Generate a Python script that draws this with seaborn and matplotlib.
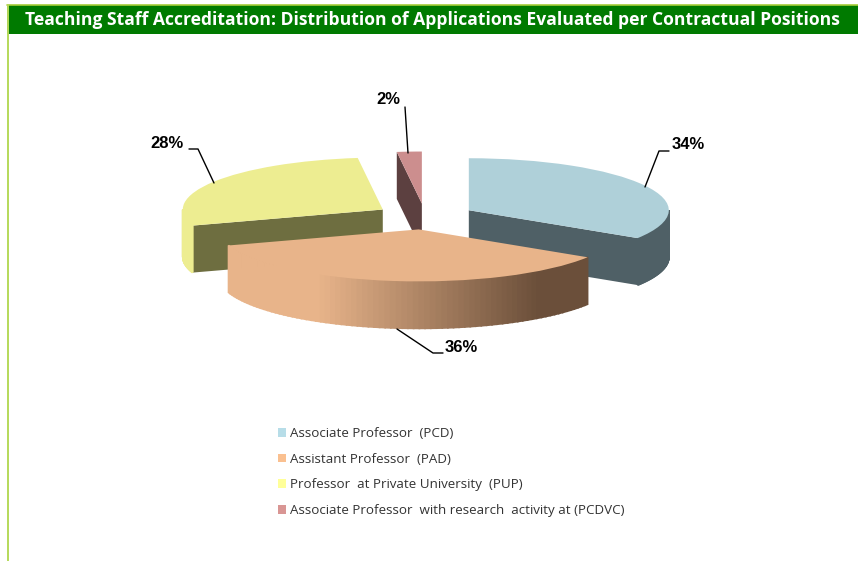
import numpy as np
import seaborn as sns
import matplotlib.pyplot as plt
from matplotlib.colors import to_rgb
from matplotlib.patches import Patch, Polygon, Rectangle

categories = ["Associate Professor  (PCD)", "Assistant Professor  (PAD)",
              "Professor  at Private University  (PUP)",
              "Associate Professor  with research  activity at (PCDVC)"]
shares = [34, 36, 28, 2]
pct_labels = ["34%", "36%", "28%", "2%"]

top_colors = ["#AFD0D9", "#E8B48A", "#EDED91", "#CC8E8E"]
dark_colors = ["#4F6066", "#6B4F3A", "#6E6E40", "#5C4040"]
legend_colors = ["#B7DDE8", "#FAC090", "#FFFF99", "#D99694"]
draw_order = [3, 2, 0, 1]   # back to front

# pixel scale of the tilted pie
W, H = 858, 561
cx, cy = 425, 216.5
rx, ry = 200, 52
depth = 47 / ry

sns.set_theme(style="white")

fig = plt.figure(figsize=(W / 100, H / 100), dpi=100, facecolor="white")
ax = fig.add_axes([0, 0, 1, 1])
wedges, _ = ax.pie(shares, colors=top_colors, startangle=90, counterclock=False,
                   explode=[0.25] * len(shares), radius=1)
ax.set_aspect("auto")
ax.set_xlim(-cx / rx, (W - cx) / rx)
ax.set_ylim((cy - H) / ry, cy / ry)
ax.axis("off")


def rim_point(w, deg):
    a = np.radians(deg)
    return w.center[0] + np.cos(a), w.center[1] + np.sin(a)


# side walls of each slice
for i in draw_order:
    w = wedges[i]
    z = 2 * draw_order.index(i) + 1
    w.set_zorder(z + 1)
    w.set_edgecolor("none")
    base = np.array(to_rgb(top_colors[i]))
    dark = np.array(to_rgb(dark_colors[i]))

    # flat cut faces turned to the viewer
    for deg, seen in ((w.theta1, np.cos(np.radians(w.theta1)) > 1e-6),
                      (w.theta2, np.cos(np.radians(w.theta2)) < -1e-6)):
        if seen:
            x, y = rim_point(w, deg)
            ax.add_patch(Polygon([w.center, (x, y), (x, y - depth),
                                  (w.center[0], w.center[1] - depth)],
                                 closed=True, fc=dark_colors[i], ec="none", zorder=z))

    # curved outer wall, only the front half shows
    lo, hi = max(w.theta1, -180), min(w.theta2, 0)
    if hi > lo:
        steps = np.linspace(lo, hi, 80)
        for d0, d1 in zip(steps[:-1], steps[1:]):
            t = np.clip((np.cos(np.radians((d0 + d1) / 2)) + 0.5) / 1.1, 0, 1)
            x0, y0 = rim_point(w, d0)
            x1, y1 = rim_point(w, d1)
            ax.add_patch(Polygon([(x0, y0), (x1, y1), (x1, y1 - depth), (x0, y0 - depth)],
                                 closed=True, fc=base + (dark - base) * t,
                                 ec=base + (dark - base) * t, lw=1.2, zorder=z))

# overlay in pixel units for frame, leaders and text
over = fig.add_axes([0, 0, 1, 1], facecolor="none")
over.set_xlim(0, W)
over.set_ylim(H, 0)
over.axis("off")

over.add_patch(Rectangle((7, 5), W - 7, 29, fc="#007A00", ec="none"))
over.plot([7, W], [5, 5], color="#A6CE39", lw=1.2)
over.plot([7.5, 7.5], [5, H], color="#B5D95A", lw=1.4)
over.text(432, 20, "Teaching Staff Accreditation: Distribution of Applications Evaluated per Contractual Positions",
          color="white", fontweight="bold", fontsize=12.65, family="Open Sans", ha="center", va="center")

leaders = [[(669, 151), (659, 151), (645, 187)],
           [(443, 353), (433, 353), (397, 329)],
           [(189, 149), (198, 149), (214, 183)],
           [(405, 107), (408, 153)]]
label_pos = [(688, 144), (461, 347), (167, 143), (388, 99)]
for pts, pos, txt in zip(leaders, label_pos, pct_labels):
    over.plot(*zip(*pts), color="black", lw=1.0)
    over.text(pos[0], pos[1], txt, fontsize=12, fontweight="bold", family="Liberation Sans",
              ha="center", va="center", color="black")

handles = [Patch(fc=c, ec="none") for c in legend_colors]
over.legend(handles, categories, loc="upper left", bbox_to_anchor=(266, 415),
            bbox_transform=over.transData, frameon=False, handlelength=0.62, handleheight=0.62,
            handletextpad=0.3, labelspacing=0.95, labelcolor="#333333",
            prop={"family": "Open Sans", "size": 9.6})

fig.savefig("out.png", dpi=100, facecolor="white")
